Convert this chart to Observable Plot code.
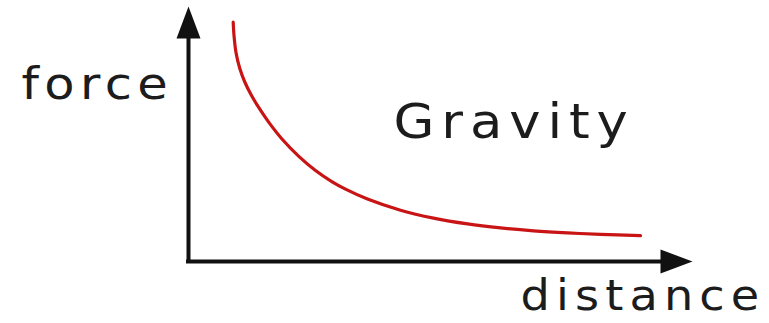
<!DOCTYPE html>
<html>
<head>
<meta charset="utf-8">
<script src="https://cdn.jsdelivr.net/npm/d3@7"></script>
<script src="https://cdn.jsdelivr.net/npm/@observablehq/plot@0.6"></script>
<style>
  html, body { margin: 0; padding: 0; background: #ffffff; }
  #chart svg { display: block; }
</style>
</head>
<body>
<div id="chart"></div>
<script>
// Inverse relation between distance and gravitational force (arbitrary units)
const distance = [0.947, 0.964, 1.006, 1.087, 1.197, 1.335, 1.511, 1.706, 1.985, 2.337, 2.691, 3.044, 3.326, 3.792, 4.492, 5.191, 5.911, 6.610, 7.309, 8.030, 8.729, 9.576];
const force    = [10.731, 10.135, 9.372, 8.655, 8.027, 7.444, 6.830, 6.229, 5.484, 4.717, 4.081, 3.574, 3.247, 2.803, 2.300, 1.946, 1.686, 1.507, 1.377, 1.283, 1.215, 1.161];

const xLabel = "distance";
const yLabel = "force";
const title = "Gravity";

const xDomain = [0, 10];
const yDomain = [0, 10];

const points = distance.map((d, i) => ({distance: d, force: force[i]}));

// Solid, elongated triangular arrowhead; its base sits on the anchor point
const arrowHead = {
  draw(context, size) {
    const r = Math.sqrt(size / Math.PI);
    context.moveTo(0, -r);
    context.lineTo(0.375 * r, 0);
    context.lineTo(-0.375 * r, 0);
    context.closePath();
  }
};

const ink = "#111111";
const textInk = "#1c1c1c";
const font = "'DejaVu Sans', Verdana, sans-serif";

const chart = Plot.plot({
  width: 769,
  height: 323,
  marginLeft: 188,
  marginRight: 109,
  marginTop: 38,
  marginBottom: 62,
  style: {background: "#ffffff", overflow: "visible", fontFamily: font},
  x: {domain: xDomain, axis: null},
  y: {domain: yDomain, axis: null},
  marks: [
    // axes
    Plot.ruleX([0], {stroke: ink, strokeWidth: 4, strokeLinecap: "square"}),
    Plot.ruleY([0], {stroke: ink, strokeWidth: 4, strokeLinecap: "square"}),
    Plot.dot([yDomain[1]], {x: 0, y: d => d, symbol: arrowHead, r: 32, fill: ink, stroke: "none"}),
    Plot.dot([xDomain[1]], {x: d => d, y: 0, symbol: arrowHead, r: 32, rotate: 90, fill: ink, stroke: "none"}),
    // force curve
    Plot.line(points, {x: "distance", y: "force", stroke: "#c81414", strokeWidth: 3.2, curve: "catmull-rom"}),
    // labels
    Plot.text([yLabel], {frameAnchor: "top-left", textAnchor: "start", lineAnchor: "bottom", dx: -167, dy: 60, fontSize: 45, fill: textInk}),
    Plot.text([title], {frameAnchor: "top-left", textAnchor: "start", lineAnchor: "bottom", dx: 205, dy: 99, fontSize: 48, fill: textInk}),
    Plot.text([xLabel], {frameAnchor: "bottom-left", textAnchor: "start", lineAnchor: "bottom", dx: 332, dy: 48, fontSize: 42, fill: textInk})
  ]
});

// Slightly wide, letter-spaced lettering on the labels
const spacing = {[yLabel]: 4.9, [title]: 6.3, [xLabel]: 5.6};
d3.select(chart).selectAll("text").each(function() {
  const s = spacing[this.textContent];
  if (s == null) return;
  const t = d3.select(this);
  t.style("letter-spacing", s + "px");
  const tr = t.attr("transform");
  if (tr) {
    t.attr("transform", tr + " scale(1.1,1)");
  } else {
    const x = +t.attr("x") || 0;
    t.attr("x", x / 1.1).attr("transform", "scale(1.1,1)");
  }
});

document.getElementById("chart").appendChild(chart);
</script>
</body>
</html>
